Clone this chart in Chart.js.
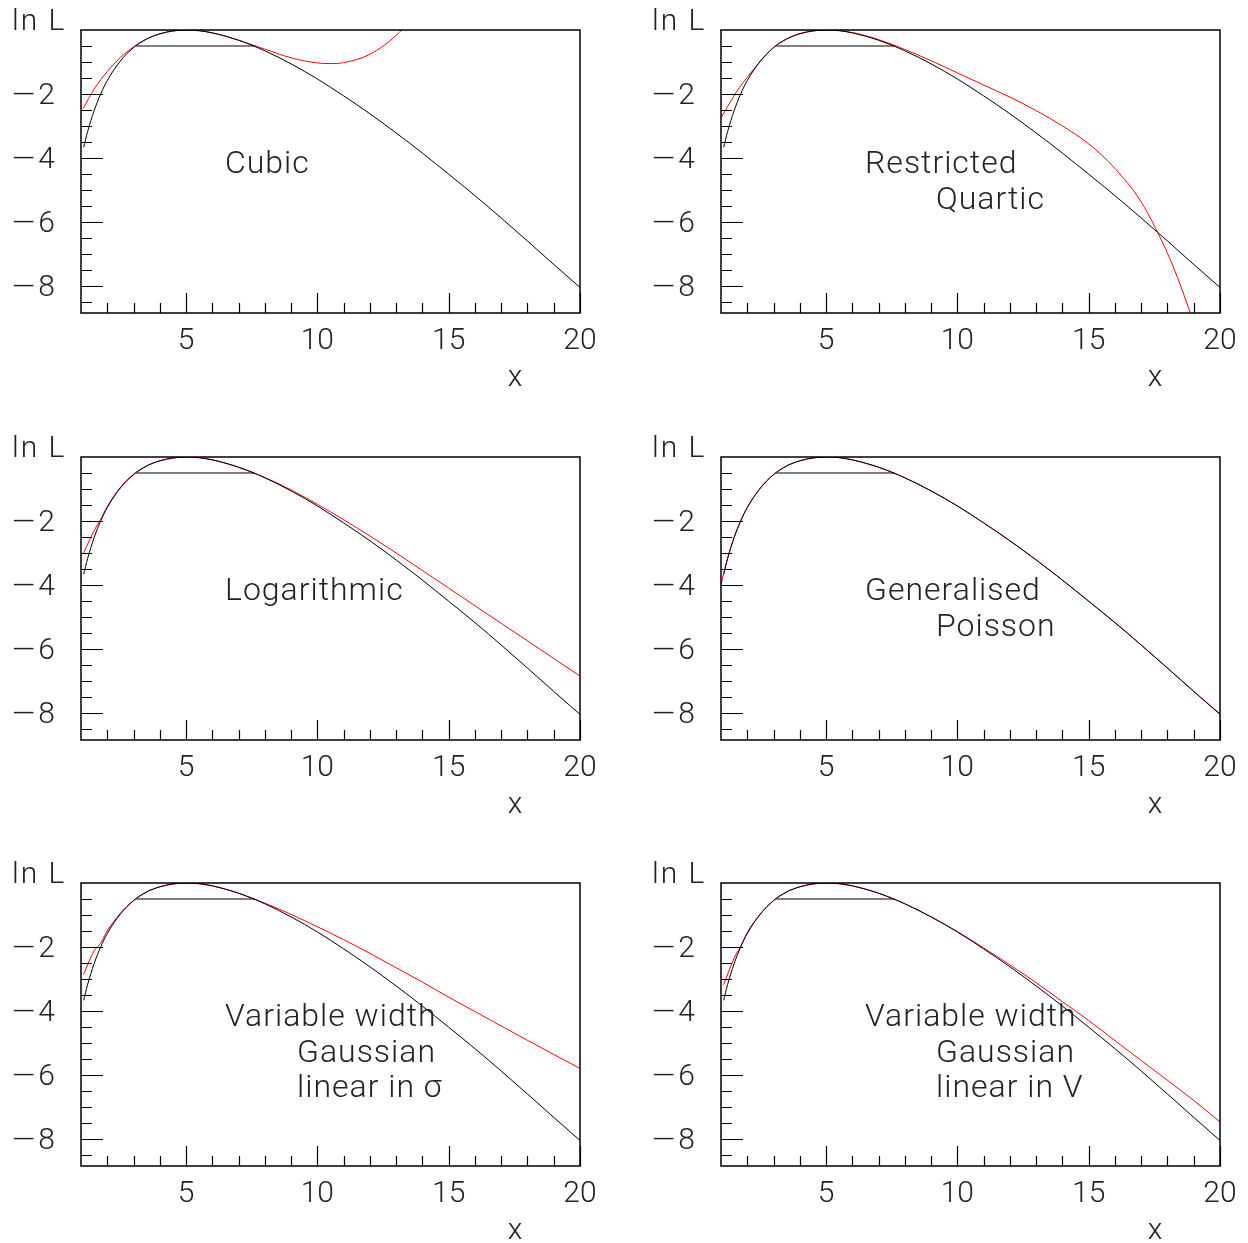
<!DOCTYPE html>
<html>
<head>
<meta charset="utf-8">
<script src="https://cdn.jsdelivr.net/npm/chart.js@4"></script>
<style>
body { margin: 0; background: #fff; }
#page { position: relative; width: 1248px; height: 1243px; overflow: hidden; font-family: Roboto, "DejaVu Sans", sans-serif; font-weight: 300; color: #222; }
.panel { position: absolute; width: 620px; height: 420px; }
.panel canvas { position: absolute; left: 0; top: 0; }
.lbl { position: absolute; font-size: 30px; line-height: 30px; letter-spacing: 2px; white-space: nowrap; }
.note { position: absolute; font-size: 32px; line-height: 32px; letter-spacing: 1px; white-space: nowrap; }
</style>
</head>
<body>
<div id="page"></div>
<script>
// Poisson ln L (black)
var poissonX = [1.1, 1.25, 1.5, 1.75, 2, 2.5, 3, 3.5, 4, 4.5, 5, 5.5, 6, 7, 8, 9, 10, 11, 12, 13, 14, 15, 16, 17, 18, 19, 20];
var poissonY = [-3.67, -3.18, -2.52, -2.0, -1.58, -0.97, -0.55, -0.28, -0.12, -0.03, 0, -0.02, -0.09, -0.32, -0.65, -1.06, -1.53, -2.06, -2.62, -3.22, -3.85, -4.51, -5.18, -5.88, -6.6, -7.33, -8.05];

// the ln L = -0.5 interval line
var intervalX = [3.1, 7.6];
var intervalY = [-0.5, -0.5];

// approximations (red)
var cubicX = [1.08, 1.5, 2, 2.5, 3, 3.5, 4, 4.5, 5, 6, 7, 8, 9, 10, 10.5, 11, 12, 13, 13.5, 14];
var cubicY = [-2.45, -1.85, -1.3, -0.86, -0.53, -0.28, -0.12, -0.03, 0, -0.09, -0.32, -0.6, -0.87, -1.03, -1.05, -1.02, -0.76, -0.17, 0.28, 0.84];

var quarticX = [1.0, 1.45, 1.7, 2, 2.5, 3, 3.5, 4, 5, 6, 7, 8, 9, 10, 11, 12, 13, 14, 15, 16, 17, 18, 18.5, 19];
var quarticY = [-2.75, -2.12, -1.8, -1.48, -0.98, -0.55, -0.28, -0.11, 0, -0.08, -0.3, -0.61, -0.96, -1.34, -1.72, -2.1, -2.52, -3.0, -3.56, -4.33, -5.38, -6.98, -8.0, -9.15];

var logX = [1.1, 1.5, 1.75, 2, 2.5, 3, 3.5, 4, 5, 6, 7, 8, 9, 10, 11, 12, 13, 14, 15, 16, 17, 18, 19, 20];
var logY = [-3.0, -2.3, -1.95, -1.55, -0.95, -0.54, -0.28, -0.12, 0, -0.09, -0.32, -0.64, -1.03, -1.48, -1.96, -2.47, -3.0, -3.55, -4.1, -4.65, -5.2, -5.75, -6.3, -6.85];

var genX = [1.0, 1.1, 1.25, 1.5, 1.75, 2, 2.5, 3, 3.5, 4, 4.5, 5, 5.5, 6, 7, 8, 9, 10, 11, 12, 13, 14, 15, 16, 17, 18, 19, 20];
var genY = [-4.0, -3.65, -3.17, -2.51, -2.0, -1.58, -0.97, -0.55, -0.28, -0.12, -0.03, 0, -0.02, -0.09, -0.32, -0.65, -1.06, -1.53, -2.06, -2.62, -3.22, -3.85, -4.51, -5.18, -5.88, -6.6, -7.33, -8.03];

var sigmaX = [1.1, 1.5, 1.75, 2, 2.5, 3, 3.5, 4, 5, 6, 7, 8, 9, 10, 11, 12, 13, 14, 15, 16, 17, 18, 19, 20];
var sigmaY = [-2.85, -2.12, -1.88, -1.5, -0.95, -0.55, -0.28, -0.12, 0, -0.09, -0.32, -0.63, -0.98, -1.37, -1.77, -2.2, -2.65, -3.1, -3.57, -4.02, -4.47, -4.92, -5.36, -5.8];

var varX = [1.1, 1.5, 1.75, 2, 2.5, 3, 3.5, 4, 5, 6, 7, 8, 9, 10, 11, 12, 13, 14, 15, 16, 17, 18, 19, 20];
var varY = [-3.18, -2.35, -1.98, -1.55, -0.97, -0.55, -0.28, -0.12, 0, -0.09, -0.32, -0.65, -1.06, -1.52, -2.03, -2.56, -3.12, -3.71, -4.3, -4.93, -5.55, -6.17, -6.8, -7.47];

// axes
var xTicks = [5, 10, 15, 20];
var xMinor = [2, 3, 4, 6, 7, 8, 9, 11, 12, 13, 14, 16, 17, 18, 19];
var yTicks = [-8, -6, -4, -2];
var yMinor = [-0.5, -1, -1.5, -2.5, -3, -3.5, -4.5, -5, -5.5, -6.5, -7, -7.5, -8.5];

var panels = [
    { redX: cubicX, redY: cubicY, note: [["Cubic", 225]] },
    { redX: quarticX, redY: quarticY, note: [["Restricted", 225], ["Quartic", 296]] },
    { redX: logX, redY: logY, note: [["Logarithmic", 225]] },
    { redX: genX, redY: genY, note: [["Generalised", 225], ["Poisson", 296]] },
    { redX: sigmaX, redY: sigmaY, note: [["Variable width", 225], ["Gaussian", 297], ["linear in \u03c3", 297]] },
    { redX: varX, redY: varY, note: [["Variable width", 225], ["Gaussian", 296], ["linear in V", 296]] }
];

var rowTop = [0, 427, 853];

function pts(xs, ys) {
    return xs.map(function (v, i) { return { x: v, y: ys[i] }; });
}

// box + inward ticks, like the original
var frame = {
    id: "frame",
    afterDatasetsDraw: function (chart) {
        var ctx = chart.ctx, a = chart.chartArea, x = chart.scales.x, y = chart.scales.y;
        ctx.save();
        ctx.strokeStyle = "#000";
        ctx.lineWidth = 1.5;
        ctx.strokeRect(a.left, a.top, a.right - a.left, a.bottom - a.top);
        ctx.lineWidth = 1.2;
        ctx.beginPath();
        xTicks.forEach(function (v) {
            var p = Math.round(x.getPixelForValue(v)) + 0.5;
            ctx.moveTo(p, a.bottom); ctx.lineTo(p, a.bottom - 20);
        });
        xMinor.forEach(function (v) {
            var p = Math.round(x.getPixelForValue(v)) + 0.5;
            ctx.moveTo(p, a.bottom); ctx.lineTo(p, a.bottom - 10);
        });
        yTicks.forEach(function (v) {
            var p = Math.round(y.getPixelForValue(v)) + 0.5;
            ctx.moveTo(a.left, p); ctx.lineTo(a.left + 22, p);
        });
        yMinor.forEach(function (v) {
            var p = Math.round(y.getPixelForValue(v)) + 0.5;
            ctx.moveTo(a.left, p); ctx.lineTo(a.left + 11, p);
        });
        ctx.stroke();
        ctx.restore();
    }
};

var page = document.getElementById("page");
var xFont = { family: "Roboto", size: 30, weight: "300" };
// small lineHeight + leading empty line nudges the y labels down a few px
var yFont = { family: "Roboto", size: 30, weight: "300", lineHeight: "6px" };

panels.forEach(function (p, i) {
    var col = i % 2, row = Math.floor(i / 2);
    var div = document.createElement("div");
    div.className = "panel";
    div.style.left = (col * 640) + "px";
    div.style.top = rowTop[row] + "px";
    var cv = document.createElement("canvas");
    cv.width = 620; cv.height = 420;
    div.appendChild(cv);

    var html = '<div class="lbl" style="left:12px;top:5px">ln L</div>' +
        '<div class="lbl" style="left:516px;top:361px;transform:translateX(-50%)">x</div>';
    p.note.forEach(function (n, k) {
        html += '<div class="note" style="left:' + n[1] + 'px;top:' + (146 + k * 35.5) + 'px">' + n[0] + '</div>';
    });
    div.insertAdjacentHTML("beforeend", html);
    page.appendChild(div);

    new Chart(cv, {
        type: "line",
        data: {
            datasets: [
                { data: pts(poissonX, poissonY), borderColor: "#000", borderWidth: 1, pointRadius: 0, cubicInterpolationMode: "monotone" },
                { data: pts(intervalX, intervalY), borderColor: "#000", borderWidth: 1, pointRadius: 0 },
                { data: pts(p.redX, p.redY), borderColor: "#ff0000", borderWidth: 1, pointRadius: 0, cubicInterpolationMode: "monotone" }
            ]
        },
        options: {
            responsive: false,
            animation: false,
            devicePixelRatio: 1,
            plugins: { legend: { display: false }, tooltip: { enabled: false } },
            layout: { padding: { top: 30, left: 12, right: 40, bottom: 0 } },
            scales: {
                x: {
                    type: "linear", min: 1, max: 20,
                    grid: { display: false, drawTicks: false },
                    border: { display: false },
                    afterBuildTicks: function (s) { s.ticks = xTicks.map(function (v) { return { value: v }; }); },
                    afterFit: function (s) { s.height = 107; },
                    ticks: { padding: 10, maxRotation: 0, autoSkip: false, color: "#222", font: xFont }
                },
                y: {
                    type: "linear", min: -8.85, max: 0,
                    grid: { display: false, drawTicks: false },
                    border: { display: false },
                    afterBuildTicks: function (s) { s.ticks = yTicks.map(function (v) { return { value: v }; }); },
                    afterFit: function (s) { s.width = 69; },
                    ticks: {
                        crossAlign: "far", autoSkip: false, color: "#222", font: yFont,
                        callback: function (v) { return ["", "\u2014\u200a" + Math.abs(v)]; }
                    }
                }
            }
        },
        plugins: [frame]
    });
});
</script>
</body>
</html>
